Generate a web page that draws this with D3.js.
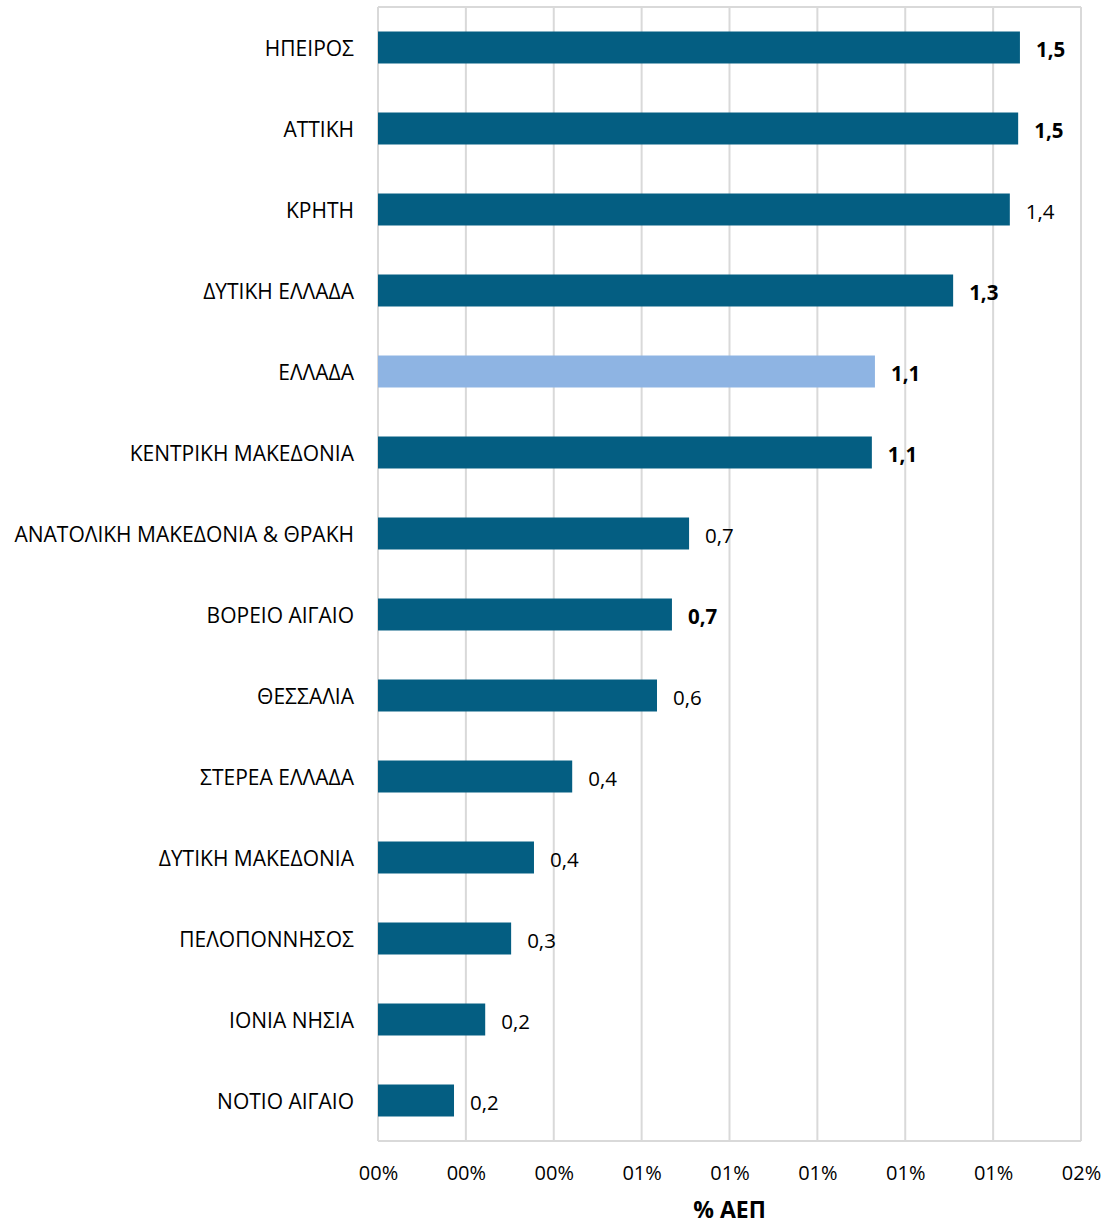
<!DOCTYPE html>
<html><head><meta charset="utf-8">
<script src="https://cdn.jsdelivr.net/npm/d3@7"></script>
<style>body{margin:0;background:#fff;} svg{display:block;font-family:"Open Sans",sans-serif;}</style>
</head><body>
<script>
const categories = ["ΗΠΕΙΡΟΣ","ΑΤΤΙΚΗ","ΚΡΗΤΗ","ΔΥΤΙΚΗ ΕΛΛΑΔΑ","ΕΛΛΑΔΑ","ΚΕΝΤΡΙΚΗ ΜΑΚΕΔΟΝΙΑ","ΑΝΑΤΟΛΙΚΗ ΜΑΚΕΔΟΝΙΑ & ΘΡΑΚΗ","ΒΟΡΕΙΟ ΑΙΓΑΙΟ","ΘΕΣΣΑΛΙΑ","ΣΤΕΡΕΑ ΕΛΛΑΔΑ","ΔΥΤΙΚΗ ΜΑΚΕΔΟΝΙΑ","ΠΕΛΟΠΟΝΝΗΣΟΣ","ΙΟΝΙΑ ΝΗΣΙΑ","ΝΟΤΙΟ ΑΙΓΑΙΟ"];
const values = [1.461,1.457,1.438,1.309,1.131,1.124,0.708,0.669,0.635,0.442,0.355,0.303,0.244,0.173];
const boldLabels = [true,true,false,true,true,true,false,true,false,false,false,false,false,false];
const highlight = ["ΕΛΛΑΔΑ"];
const tickValues = [0,0.2,0.4,0.6,0.8,1.0,1.2,1.4,1.6];
const tickLabels = ["00%","00%","00%","01%","01%","01%","01%","01%","02%"];
const axisTitle = "% ΑΕΠ";

const W=1109,H=1225;
const m={left:378,right:28,top:7,bottom:84};
const svg=d3.select("body").append("svg").attr("width",W).attr("height",H);
const x=d3.scaleLinear().domain([0,1.6]).range([m.left,W-m.right]);
const y=d3.scaleBand().domain(categories).range([m.top,H-m.bottom]).paddingInner(0.605).paddingOuter(0.3025);
const grid="#d9d9d9";
svg.append("g").selectAll("line").data(tickValues).join("line")
  .attr("x1",d=>x(d)).attr("x2",d=>x(d)).attr("y1",m.top).attr("y2",H-m.bottom)
  .attr("stroke",grid).attr("stroke-width",2);
svg.append("line").attr("x1",m.left).attr("x2",W-m.right).attr("y1",m.top).attr("y2",m.top).attr("stroke",grid).attr("stroke-width",2);
svg.append("line").attr("x1",m.left).attr("x2",W-m.right).attr("y1",H-m.bottom).attr("y2",H-m.bottom).attr("stroke",grid).attr("stroke-width",2);
svg.append("g").selectAll("rect").data(categories).join("rect")
  .attr("x",x(0)).attr("y",d=>y(d)).attr("height",y.bandwidth())
  .attr("width",(d,i)=>x(values[i])-x(0))
  .attr("fill",d=>highlight.includes(d)?"#8eb4e3":"#045e82");
svg.append("g").selectAll("text").data(categories).join("text")
  .attr("x",(d,i)=>x(values[i])+16).attr("y",d=>y(d)+y.bandwidth()/2+2).attr("dy","0.35em")
  .attr("font-size",20.5).attr("fill","#000")
  .attr("font-weight",(d,i)=>boldLabels[i]?"bold":"normal")
  .text((d,i)=>d3.format(".1f")(values[i]).replace(".",","));
const ya=d3.axisLeft(y).tickSize(0).tickPadding(24);
const gy=svg.append("g").attr("transform",`translate(${m.left},2)`).call(ya);
gy.select(".domain").remove();
gy.selectAll("text").attr("font-size",21).attr("fill","#000").attr("font-family","Open Sans, sans-serif");
const xa=d3.axisBottom(x).tickValues(tickValues).tickSize(0).tickPadding(25).tickFormat((d,i)=>tickLabels[i]);
const gx=svg.append("g").attr("transform",`translate(0,${H-m.bottom})`).call(xa);
gx.select(".domain").remove();
gx.selectAll("text").attr("font-size",20).attr("fill","#000").attr("font-family","Open Sans, sans-serif");
svg.append("text").attr("x",(x(0)+x(1.6))/2).attr("y",1218).attr("text-anchor","middle")
  .attr("font-size",23).attr("font-weight","bold").text(axisTitle);
</script>
</body></html>
